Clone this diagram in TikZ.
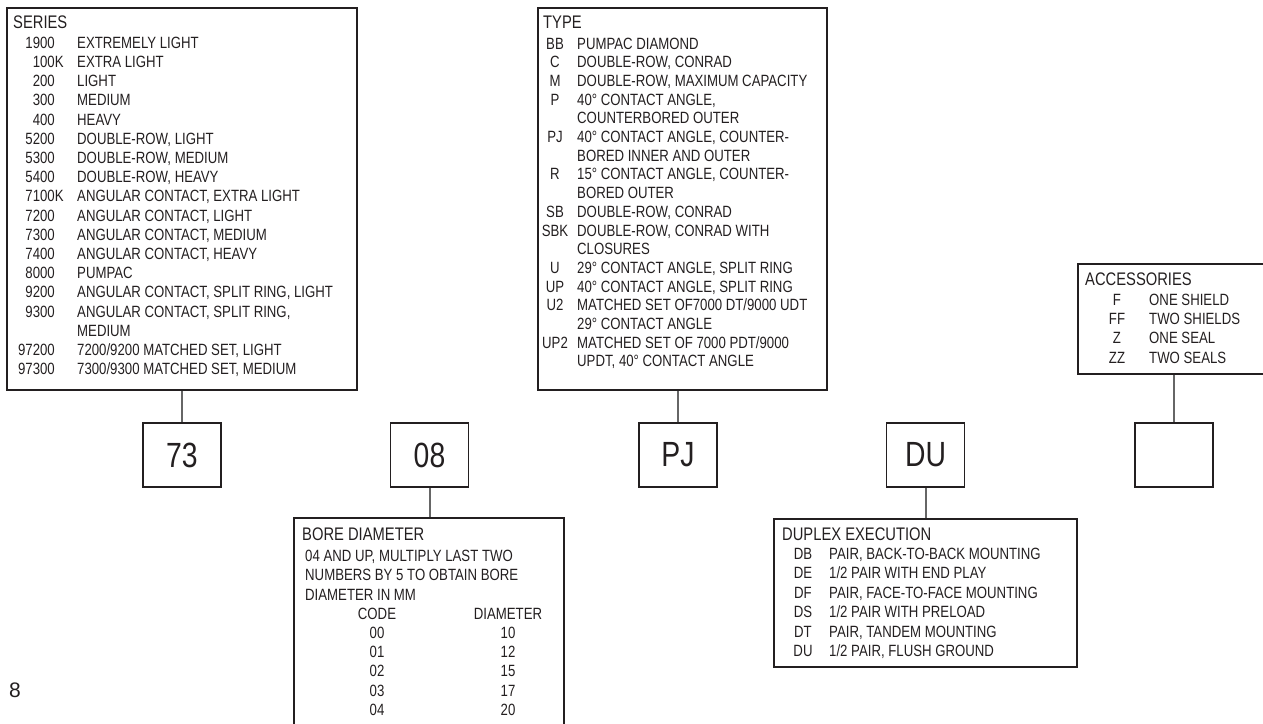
\documentclass[tikz,border=0pt]{standalone}
\usepackage{fontspec}
\setmainfont{Liberation Sans}
\newfontfamily\condfont[FakeStretch=0.81]{Liberation Sans}
\usetikzlibrary{positioning, backgrounds}
\definecolor{ink}{HTML}{231F20}
\definecolor{linkgray}{HTML}{666666}
\newcommand{\listfont}{\condfont\fontsize{16.3}{19}\selectfont}
\newcommand{\headfont}{\condfont\fontsize{18.2}{21}\selectfont}
\newcommand{\slotfont}{\condfont\fontsize{35}{40}\selectfont}

\begin{document}
\begin{tikzpicture}[x=1pt, y=-1pt, text=ink]
  \tikzstyle{panel}=[draw=ink, line width=1.3pt, inner sep=0pt]
  \tikzstyle{slot}=[panel, minimum width=78pt, minimum height=64pt, font=\slotfont]
  \tikzstyle{link}=[draw=linkgray, line width=2pt]
  \tikzstyle{entry}=[inner sep=0pt, font=\listfont, anchor=base west]
  \tikzstyle{keycol}=[inner sep=0pt, font=\listfont, anchor=base]
  \tikzstyle{heading}=[inner sep=0pt, font=\headfont, anchor=base west]
  \useasboundingbox (0,0) rectangle (1263,723);

  % the code slots
  \node (s73) at (182,455) [slot] {73};
  \node (s08) at (429.5,455) [slot] {08};
  \node (sPJ) at (678,455) [slot] {PJ};
  \node (sDU) at (925.5,455) [slot] {DU};
  \node (sacc) at (1174,455) [slot] {};

  % series
  \node (series) at (182,199) [panel, minimum width=350pt, minimum height=382pt] {};
  \node (seriest) at (13,28.3) [heading] {SERIES};
  \foreach \c/\d [count=\i from 0] in {1900/EXTREMELY LIGHT, 100\rlap{K}/EXTRA LIGHT, 200/LIGHT, 300/MEDIUM, 400/HEAVY,
    5200/{DOUBLE-ROW, LIGHT}, 5300/{DOUBLE-ROW, MEDIUM}, 5400/{DOUBLE-ROW, HEAVY},
    7100\rlap{K}/{ANGULAR CONTACT, EXTRA LIGHT}, 7200/{ANGULAR CONTACT, LIGHT}, 7300/{ANGULAR CONTACT, MEDIUM},
    7400/{ANGULAR CONTACT, HEAVY}, 8000/PUMPAC, 9200/{ANGULAR CONTACT, SPLIT RING, LIGHT},
    9300/{ANGULAR CONTACT, SPLIT RING,}, /MEDIUM, 97200/{7200/9200 MATCHED SET, LIGHT},
    97300/{7300/9300 MATCHED SET, MEDIUM}} {
    \node (serc\i) at (55,48.3+19.2*\i) [keycol, anchor=base east] {\c};
    \node (serd\i) at (77,48.3+19.2*\i) [entry] {\d};
  }

  % type
  \node (type) at (682.5,199) [panel, minimum width=289pt, minimum height=382pt] {};
  \node (typet) at (543,28.3) [heading] {TYPE};
  \foreach \c/\d [count=\i from 0] in {BB/PUMPAC DIAMOND, C/{DOUBLE-ROW, CONRAD}, M/{DOUBLE-ROW, MAXIMUM CAPACITY},
    P/{40° CONTACT ANGLE,}, /COUNTERBORED OUTER, PJ/{40° CONTACT ANGLE, COUNTER-}, /BORED INNER AND OUTER,
    R/{15° CONTACT ANGLE, COUNTER-}, /BORED OUTER, SB/{DOUBLE-ROW, CONRAD}, SBK/{DOUBLE-ROW, CONRAD WITH},
    /CLOSURES, U/{29° CONTACT ANGLE, SPLIT RING}, UP/{40° CONTACT ANGLE, SPLIT RING},
    U2/{MATCHED SET OF7000 DT/9000 UDT}, /29° CONTACT ANGLE, UP2/{MATCHED SET OF 7000 PDT/9000},
    /{UPDT, 40° CONTACT ANGLE}} {
    \node (typc\i) at (555,49+18.7*\i) [keycol] {\c};
    \node (typd\i) at (577,49+18.7*\i) [entry] {\d};
  }

  % accessories
  \node (acc) at (1174,319) [panel, minimum width=192pt, minimum height=110pt] {};
  \node (acct) at (1085,285) [heading] {ACCESSORIES};
  \foreach \c/\d [count=\i from 0] in {F/ONE SHIELD, FF/TWO SHIELDS, Z/ONE SEAL, ZZ/TWO SEALS} {
    \node (accc\i) at (1117,305+19.4*\i) [keycol] {\c};
    \node (accd\i) at (1149,305+19.4*\i) [entry] {\d};
  }

  % bore diameter
  \node (bore) at (429,629) [panel, minimum width=270pt, minimum height=222pt] {};
  \node (boret) at (302,540) [heading] {BORE DIAMETER};
  \foreach \d [count=\i from 0] in {{04 AND UP, MULTIPLY LAST TWO}, NUMBERS BY 5 TO OBTAIN BORE, DIAMETER IN MM} {
    \node (bored\i) at (305,561.7+19.2*\i) [entry] {\d};
  }
  \foreach \c/\d [count=\i from 3] in {CODE/DIAMETER, 00/10, 01/12, 02/15, 03/17, 04/20} {
    \node (borec\i) at (377,561.7+19.2*\i) [keycol] {\c};
    \node (borev\i) at (508,561.7+19.2*\i) [keycol] {\d};
  }

  % duplex execution
  \node (duplex) at (925.5,593) [panel, minimum width=303pt, minimum height=148pt] {};
  \node (duplext) at (782,540) [heading] {DUPLEX EXECUTION};
  \foreach \c/\d [count=\i from 0] in {DB/{PAIR, BACK-TO-BACK MOUNTING}, DE/{1/2 PAIR WITH END PLAY},
    DF/{PAIR, FACE-TO-FACE MOUNTING}, DS/{1/2 PAIR WITH PRELOAD}, DT/{PAIR, TANDEM MOUNTING},
    DU/{1/2 PAIR, FLUSH GROUND}} {
    \node (dupc\i) at (803,559.3+19.5*\i) [keycol] {\c};
    \node (dupd\i) at (829,559.3+19.5*\i) [entry] {\d};
  }

  % page number
  \node (pagenum) at (9,697) [inner sep=0pt, anchor=base west, font=\fontsize{21}{24}\selectfont] {8};

  % connections
  \begin{scope}[on background layer]
    \draw[link] (s73.north) -- (s73.north |- series.south);
    \draw[link] (sPJ.north) -- (sPJ.north |- type.south);
    \draw[link] (sacc.north) -- (sacc.north |- acc.south);
    \draw[link] (s08.south) -- (s08.south |- bore.north);
    \draw[link] (sDU.south) -- (sDU.south |- duplex.north);
  \end{scope}
\end{tikzpicture}
\end{document}
